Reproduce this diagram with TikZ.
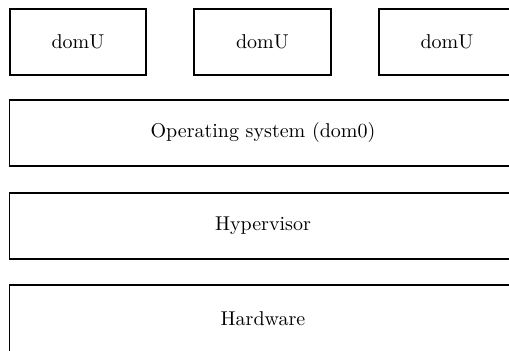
\documentclass[tikz,border=0pt]{standalone}
\begin{document}
\begin{tikzpicture}[x=0.5pt,y=-0.5pt,
  layer/.style={draw, line width=0.9pt, minimum width=253.5pt, minimum height=33.3pt, inner sep=0pt, font=\normalsize},
  dombox/.style={draw, line width=0.9pt, minimum width=68.3pt, minimum height=33.3pt, inner sep=0pt, font=\normalsize}]
\useasboundingbox (0,0) rectangle (509,351);
\clip (0,0) rectangle (509,351);
\node[dombox] (u1) at (78,42) {domU};
\node[dombox] (u2) at (262.5,42) {domU};
\node[dombox] (u3) at (447,42) {domU};
\node[layer] (os) at (263,133) {Operating system (dom0)};
\node[layer] (hv) at (263,226) {Hypervisor};
\node[layer] (hw) at (263,318.5) {Hardware};
\end{tikzpicture}
\end{document}
